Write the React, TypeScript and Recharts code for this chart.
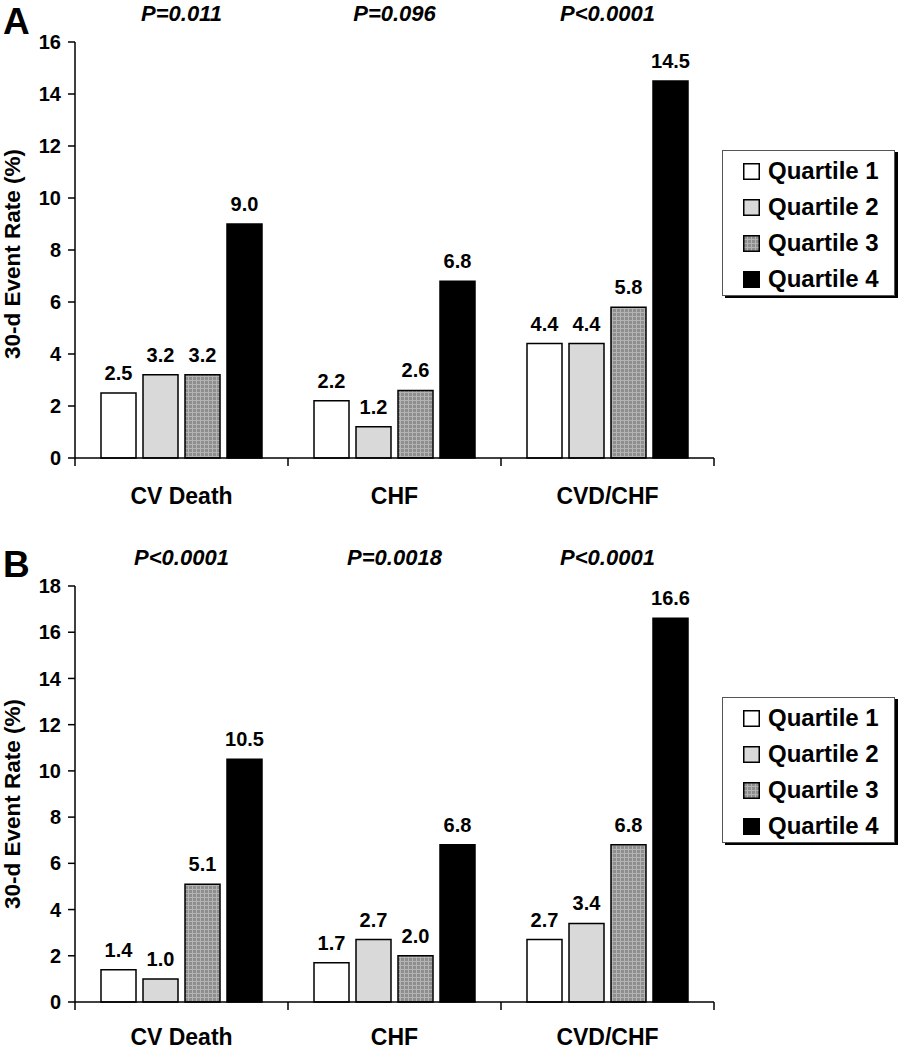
import React from "react";
import { BarChart, Bar, XAxis, YAxis, LabelList, Legend } from "recharts";

const categories = ["CV Death", "CHF", "CVD/CHF"];
const quartiles = ["Quartile 1", "Quartile 2", "Quartile 3", "Quartile 4"];

// panel A
const aQ1 = [2.5, 2.2, 4.4];
const aQ2 = [3.2, 1.2, 4.4];
const aQ3 = [3.2, 2.6, 5.8];
const aQ4 = [9.0, 6.8, 14.5];
const aP = ["P=0.011", "P=0.096", "P<0.0001"];
const aTicks = [0, 2, 4, 6, 8, 10, 12, 14, 16];

// panel B
const bQ1 = [1.4, 1.7, 2.7];
const bQ2 = [1.0, 2.7, 3.4];
const bQ3 = [5.1, 2.0, 6.8];
const bQ4 = [10.5, 6.8, 16.6];
const bP = ["P<0.0001", "P=0.0018", "P<0.0001"];
const bTicks = [0, 2, 4, 6, 8, 10, 12, 14, 16, 18];

const FONT = "'Liberation Sans', Arial, Helvetica, sans-serif";
const W = 899;
const H = 525;
const LEFT = 75;
const RIGHT = 714;

type PanelProps = {
  letter: string;
  series: number[][];
  pvals: string[];
  ticks: number[];
  plotTop: number;
  plotBottom: number;
  legendTop: number;
  labelShift: number;
  letterTop: number;
  catOffset: number;
};

function Panel({
  letter,
  series,
  pvals,
  ticks,
  plotTop,
  plotBottom,
  legendTop,
  labelShift,
  letterTop,
  catOffset,
}: PanelProps) {
  const data = categories.map((c, i) => ({
    category: c,
    p: pvals[i],
    q1: series[0][i],
    q2: series[1][i],
    q3: series[2][i],
    q4: series[3][i],
  }));
  const hatchId = "hatch" + letter;
  const fills = ["#ffffff", "#d9d9d9", `url(#${hatchId})`, "#000000"];
  const bandHalf = (RIGHT - LEFT) / categories.length / 2;

  const CatTick = (props: any) => {
    const { x, payload, index } = props;
    const half = payload && typeof payload.offset === "number" && payload.offset > 0 ? payload.offset : bandHalf;
    return (
      <g>
        {index === 0 && (
          <line x1={x - half} x2={x - half} y1={plotBottom} y2={plotBottom + 8} stroke="#000" strokeWidth={1.5} />
        )}
        <line x1={x + half} x2={x + half} y1={plotBottom} y2={plotBottom + 8} stroke="#000" strokeWidth={1.5} />
        <text x={x} y={plotBottom + catOffset} textAnchor="middle" fontFamily={FONT} fontWeight="bold" fontSize={23} fill="#000">
          {payload.value}
        </text>
      </g>
    );
  };

  const PTick = (props: any) => {
    const { x, payload } = props;
    return (
      <text x={x} y={plotTop - 21} textAnchor="middle" fontFamily={FONT} fontWeight="bold" fontStyle="italic" fontSize={22} fill="#000">
        {payload.value}
      </text>
    );
  };

  const YLabel = (props: any) => {
    const vb = props.viewBox || { y: plotTop, height: plotBottom - plotTop };
    const cy = vb.y + vb.height / 2 + labelShift;
    return (
      <text
        x={20}
        y={cy}
        transform={`rotate(-90, 20, ${cy})`}
        textAnchor="middle"
        fontFamily={FONT}
        fontWeight="bold"
        fontSize={22.5}
        fill="#000"
      >
        30-d Event Rate (%)
      </text>
    );
  };

  const LegendBox = () => (
    <div
      style={{
        width: 173,
        height: 146,
        boxSizing: "border-box",
        border: "1.5px solid #555",
        boxShadow: "3px 2px 0 #000",
        background: "#fff",
        paddingTop: 2,
        paddingLeft: 20,
      }}
    >
      {quartiles.map((q, i) => (
        <div key={q} style={{ display: "flex", alignItems: "center", height: 36 }}>
          <svg width={17} height={17} style={{ marginRight: 8, flex: "none" }}>
            <rect x={0.75} y={0.75} width={15.5} height={15.5} fill={fills[i]} stroke="#000" strokeWidth={1.5} />
          </svg>
          <span style={{ fontFamily: FONT, fontWeight: "bold", fontSize: 24, color: "#000", whiteSpace: "nowrap" }}>{q}</span>
        </div>
      ))}
    </div>
  );

  return (
    <div style={{ position: "relative", width: W, height: H }}>
      <div
        style={{
          position: "absolute",
          left: 3,
          top: letterTop,
          fontFamily: FONT,
          fontWeight: "bold",
          fontSize: 37,
          lineHeight: "42px",
          zIndex: 2,
        }}
      >
        {letter}
      </div>
      <BarChart
        width={W}
        height={H}
        data={data}
        margin={{ top: 0, right: W - RIGHT, bottom: 0, left: 30 }}
        barCategoryGap={26}
        barGap={7}
      >
        <defs>
          <pattern id={hatchId} width={4} height={4} patternUnits="userSpaceOnUse">
            <rect width={4} height={4} fill="#8e8e8e" />
            <path d="M0 0.5 H4 M0.5 0 V4" stroke="#b4b4b4" strokeWidth={1} />
          </pattern>
        </defs>
        <XAxis
          xAxisId="top"
          orientation="top"
          dataKey="p"
          height={plotTop}
          axisLine={false}
          tickLine={false}
          tick={<PTick />}
          interval={0}
        />
        <XAxis
          dataKey="category"
          height={H - plotBottom}
          axisLine={{ stroke: "#000", strokeWidth: 1.5 }}
          tickLine={false}
          tick={<CatTick />}
          interval={0}
        />
        <YAxis
          width={45}
          domain={[0, ticks[ticks.length - 1]]}
          ticks={ticks}
          interval={0}
          axisLine={{ stroke: "#000", strokeWidth: 1.5 }}
          tickLine={{ stroke: "#000", strokeWidth: 1.5 }}
          tickSize={7}
          tickMargin={7}
          tick={{ fill: "#000", fontSize: 20, fontWeight: "bold", fontFamily: FONT }}
          label={<YLabel />}
        />
        <Legend
          layout="vertical"
          align="center"
          verticalAlign="middle"
          content={<LegendBox />}
          wrapperStyle={{ position: "absolute", top: legendTop, left: 722, width: 173 }}
        />
        {["q1", "q2", "q3", "q4"].map((k, i) => (
          <Bar
            key={k}
            dataKey={k}
            name={quartiles[i]}
            fill={fills[i]}
            stroke="#000"
            strokeWidth={1.5}
            isAnimationActive={false}
          >
            <LabelList
              dataKey={k}
              position="top"
              offset={13}
              formatter={(v: any) => Number(v).toFixed(1)}
              style={{ fill: "#000", fontSize: 20, fontWeight: "bold", fontFamily: FONT }}
            />
          </Bar>
        ))}
      </BarChart>
    </div>
  );
}

export default function App() {
  return (
    <div style={{ position: "absolute", left: 0, top: 0, width: W, height: 1050, background: "#fff" }}>
      <Panel
        letter="A"
        series={[aQ1, aQ2, aQ3, aQ4]}
        pvals={aP}
        ticks={aTicks}
        plotTop={42}
        plotBottom={458}
        legendTop={150}
        labelShift={4}
        letterTop={1}
        catOffset={46}
      />
      <Panel
        letter="B"
        series={[bQ1, bQ2, bQ3, bQ4]}
        pvals={bP}
        ticks={bTicks}
        plotTop={61}
        plotBottom={477}
        legendTop={172}
        labelShift={10}
        letterTop={19}
        catOffset={43}
      />
    </div>
  );
}
